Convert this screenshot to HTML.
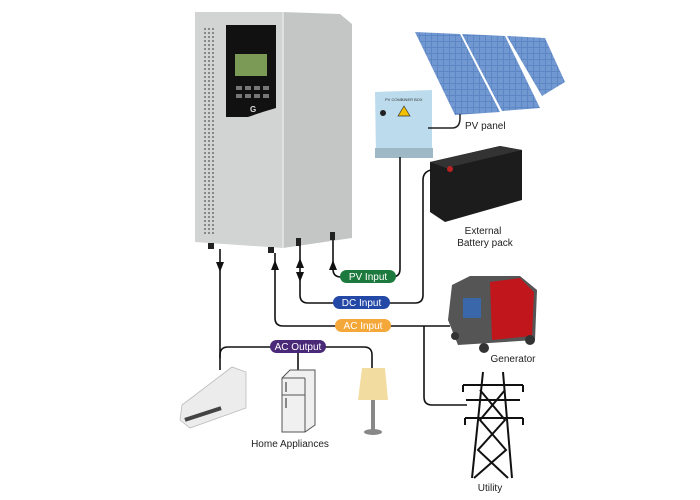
<!DOCTYPE html>
<html><head><meta charset="utf-8"><style>
html,body{margin:0;padding:0;background:#fff;}
svg{display:block;font-family:"Liberation Sans",sans-serif;}
</style></head><body>
<svg width="700" height="500" viewBox="0 0 700 500" xmlns="http://www.w3.org/2000/svg">
<rect width="700" height="500" fill="#fff"/>
<!-- Inverter -->
<polygon points="283,12 340,14 352,24 352,238 283,248" fill="#c4c6c6"/>
<polygon points="195,12 283,12 283,248 195,242" fill="#d2d3d3"/>
<line x1="283" y1="12" x2="283" y2="248" stroke="#e8e8e8" stroke-width="1.5"/>
<rect x="203" y="25" width="14" height="210" fill="none"/>
<g fill="#8a8a8a">
<rect x="204" y="26" width="12" height="208" fill="url(#dots)"/>
</g>
<defs>
<pattern id="dots" width="4" height="4" patternUnits="userSpaceOnUse"><rect width="2" height="2" fill="#888"/></pattern>
<pattern id="cells" width="6" height="6" patternUnits="userSpaceOnUse"><rect width="6" height="6" fill="#5d86c4"/><rect width="5" height="5" fill="#7198d0"/></pattern>
</defs>
<path d="M226,25 L276,25 L276,108 Q262,112 248,117 L226,117 Z" fill="#111"/>
<rect x="235" y="54" width="32" height="22" fill="#7a9a55"/>
<g fill="#777"><rect x="236" y="86" width="6" height="4"/><rect x="245" y="86" width="6" height="4"/><rect x="254" y="86" width="6" height="4"/><rect x="263" y="86" width="6" height="4"/><rect x="236" y="94" width="6" height="4"/><rect x="245" y="94" width="6" height="4"/><rect x="254" y="94" width="6" height="4"/><rect x="263" y="94" width="6" height="4"/></g>
<text x="250" y="112" font-size="8" fill="#ddd" font-weight="bold">G</text>
<rect x="208" y="243" width="6" height="6" fill="#222"/><rect x="268" y="247" width="6" height="6" fill="#222"/>
<rect x="296" y="238" width="5" height="8" fill="#222"/><rect x="330" y="232" width="5" height="8" fill="#222"/>
<!-- PV panel -->
<polygon points="415,32 460,34 500,112 455,115" fill="url(#cells)"/>
<polygon points="462,34 505,36 540,108 502,111" fill="url(#cells)"/>
<polygon points="507,36 545,38 565,82 542,96" fill="url(#cells)"/>
<text x="465" y="129" font-size="10" fill="#222">PV panel</text>
<!-- PV combiner box -->
<polygon points="375,92 432,90 432,150 376,156" fill="#bcdced"/>
<rect x="375" y="148" width="58" height="10" fill="#9fb8c6"/>
<polygon points="398,116 404,106 410,116" fill="#f2c000" stroke="#333" stroke-width="0.7"/>
<circle cx="383" cy="113" r="3" fill="#222"/>
<text x="385" y="101" font-size="4" fill="#333">PV COMBINER BOX</text>
<path d="M428,128 L452,128 Q460,128 460,118 L460,114" fill="none" stroke="#222" stroke-width="1.5"/>
<!-- Battery -->
<polygon points="430,162 500,146 522,150 522,200 445,222 430,212" fill="#1c1c1c"/>
<polygon points="430,162 500,146 522,150 446,168" fill="#333"/>
<circle cx="450" cy="169" r="3" fill="#b22"/>
<text x="483" y="234" font-size="10" fill="#222" text-anchor="middle">External</text>
<text x="485" y="246" font-size="10" fill="#222" text-anchor="middle">Battery pack</text>
<!-- Generator -->
<polygon points="452,285 470,276 520,276 537,290 535,340 458,345 448,320" fill="#555"/>
<polygon points="490,282 520,278 534,292 532,336 492,340" fill="#c0161c"/>
<circle cx="484" cy="348" r="5" fill="#333"/><circle cx="530" cy="340" r="5" fill="#333"/><circle cx="455" cy="336" r="4" fill="#333"/>
<rect x="463" y="298" width="18" height="20" fill="#3a66aa"/>
<text x="513" y="362" font-size="10" fill="#222" text-anchor="middle">Generator</text>
<!-- Wires -->
<g fill="none" stroke="#111" stroke-width="1.6">
<path d="M220,249 L220,370"/>
<path d="M220,358 L220,355 Q220,347 228,347 L364,347 Q372,347 372,355 L372,368"/>
<path d="M298,347 L298,372"/>
<path d="M275,253 L275,318 Q275,326 283,326 L450,326"/>
<path d="M424,326 L424,397 Q424,405 432,405 L467,405"/>
<path d="M300,246 L300,295 Q300,303 308,303 L415,303 Q423,303 423,295 L423,180 Q423,172 431,170"/>
<path d="M333,240 L333,269 Q333,277 341,277 L392,277 Q400,277 400,269 L400,157"/>
</g>
<g fill="#111">
<polygon points="216,262 224,262 220,272"/>
<polygon points="271,270 279,270 275,260"/>
<polygon points="296,268 304,268 300,258"/><polygon points="296,272 304,272 300,282"/>
<polygon points="329,270 337,270 333,260"/>
</g>
<!-- Labels -->
<g font-size="10" fill="#fff" text-anchor="middle">
<rect x="340" y="270" width="56" height="13" rx="6.5" fill="#1d7a3e"/><text x="368" y="280">PV Input</text>
<rect x="333" y="296" width="57" height="13" rx="6.5" fill="#2448a6"/><text x="361.5" y="306">DC Input</text>
<rect x="335" y="319" width="56" height="13" rx="6.5" fill="#f5a83a"/><text x="363" y="329">AC Input</text>
<rect x="270" y="340" width="56" height="13" rx="6.5" fill="#4a2a78"/><text x="298" y="350">AC Output</text>
</g>
<!-- AC unit -->
<polygon points="182,405 232,367 246,372 246,408 190,428 180,420" fill="#ececec" stroke="#bbb" stroke-width="0.8"/>
<rect x="184" y="412" width="38" height="4" fill="#444" transform="rotate(-18 203 414)"/>
<!-- Fridge -->
<polygon points="282,378 290,370 315,370 315,425 305,432 282,432" fill="#f0f0f0" stroke="#555" stroke-width="1"/>
<line x1="282" y1="395" x2="305" y2="395" stroke="#555"/><line x1="305" y1="378" x2="305" y2="432" stroke="#555"/>
<line x1="282" y1="378" x2="305" y2="378" stroke="#555"/>
<rect x="285" y="382" width="2" height="10" fill="#888"/><rect x="285" y="398" width="2" height="10" fill="#888"/>
<!-- Lamp -->
<polygon points="358,400 362,368 385,368 388,400" fill="#f2dca0"/>
<rect x="371" y="400" width="4" height="30" fill="#888"/>
<ellipse cx="373" cy="432" rx="9" ry="3" fill="#888"/>
<text x="290" y="447" font-size="10" fill="#222" text-anchor="middle">Home Appliances</text>
<!-- Tower -->
<g fill="none" stroke="#111" stroke-width="2">
<path d="M483,372 L472,478 M503,372 L512,478"/>
<path d="M463,385 L523,385 M466,400 L520,400 M465,418 L523,418"/>
<path d="M480,390 L505,420 L478,450 L508,478 M505,390 L480,420 L506,450 L474,478"/>
<path d="M463,385 L463,392 M523,385 L523,392 M465,418 L465,425 M523,418 L523,425"/>
</g>
<text x="490" y="491" font-size="10" fill="#222" text-anchor="middle">Utility</text>
</svg>
</body></html>
